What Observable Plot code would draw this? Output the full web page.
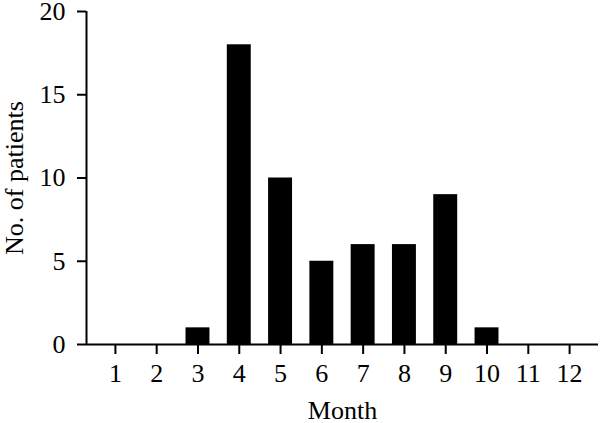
<!DOCTYPE html>
<html>
<head>
<meta charset="utf-8">
<script src="https://cdn.jsdelivr.net/npm/d3@7"></script>
<script src="https://cdn.jsdelivr.net/npm/@observablehq/plot@0.6"></script>
<style>
  html, body { margin: 0; padding: 0; background: #fff; }
</style>
</head>
<body>
<div id="chart"></div>
<script>
const months = [1, 2, 3, 4, 5, 6, 7, 8, 9, 10, 11, 12];
const patients = [0, 0, 1, 18, 10, 5, 6, 6, 9, 1, 0, 0];
const yTicks = [0, 5, 10, 15, 20];
const xLabel = "Month";
const yLabel = "No. of patients";

const data = months.map((m, i) => ({month: m, count: patients[i]}));
const xDomain = [0.3, 12.7];
const half = 0.29;

const chart = Plot.plot({
  width: 600,
  height: 423,
  marginLeft: 86,
  marginRight: 2,
  marginTop: 11,
  marginBottom: 79,
  style: {fontFamily: "'Liberation Serif', serif", fontSize: "26px", color: "#000", background: "#fff"},
  x: {domain: xDomain},
  y: {domain: [0, 20]},
  marks: [
    Plot.rectY(data, {x1: d => d.month - half, x2: d => d.month + half, y: "count", fill: "#000"}),
    Plot.ruleY([0], {stroke: "#000", strokeWidth: 2}),
    Plot.ruleX([xDomain[0]], {stroke: "#000", strokeWidth: 2}),
    Plot.axisX({ticks: months, tickFormat: d => String(d), tickSize: 10, tickPadding: 9, strokeWidth: 2,
      label: xLabel, labelAnchor: "center", labelOffset: 74, labelArrow: "none", dx: 0}),
    Plot.axisY({ticks: yTicks, tickSize: 9, tickPadding: 12, strokeWidth: 2,
      label: yLabel, labelAnchor: "center", labelOffset: 82, labelArrow: "none"})
  ]
});
document.getElementById("chart").appendChild(chart);
</script>
</body>
</html>
